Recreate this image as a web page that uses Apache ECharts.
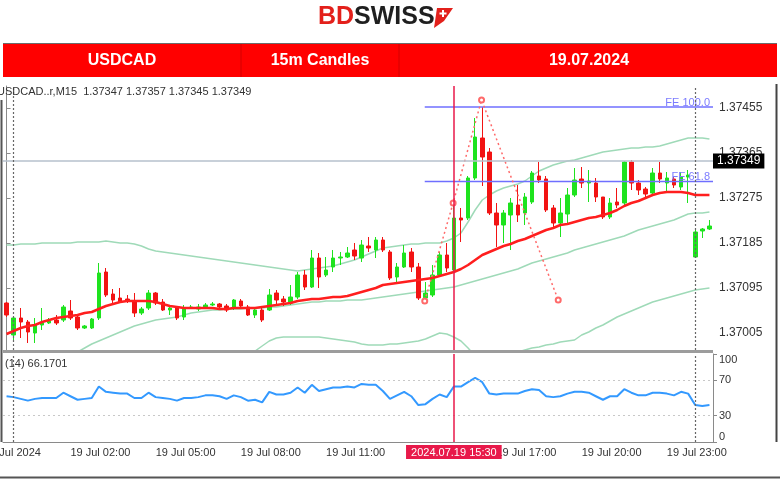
<!DOCTYPE html>
<html>
<head>
<meta charset="utf-8">
<title>USDCAD 15m Candles 19.07.2024</title>
<script src="https://cdn.jsdelivr.net/npm/echarts@6/dist/echarts.min.js"></script>
<style>
  html, body { margin: 0; padding: 0; background: #fff; }
  #chart { width: 780px; height: 482px; }
</style>
</head>
<body>
<div id="chart"></div>
<script>
// 15m bars: 18 Jul 23:45, the whole of 19 Jul, then Monday 22 Jul 00:00-00:30
const pad = (n) => String(n).padStart(2, '0');
const times = ['18 Jul 23:45'];
for (let h = 0; h < 24; h++) {
  for (let m = 0; m < 60; m += 15) times.push(`19 Jul ${pad(h)}:${pad(m)}`);
}
times.push('22 Jul 00:00', '22 Jul 00:15', '22 Jul 00:30');

const timeTickLabels = ['19 Jul 02:00', '19 Jul 05:00', '19 Jul 08:00', '19 Jul 11:00', '19 Jul 14:00', '19 Jul 17:00', '19 Jul 20:00', '19 Jul 23:00'];
const daySeparators = ['19 Jul 00:00', '22 Jul 00:00'];
const cursorTime = '19 Jul 15:30';
const priceTicks = [1.37005, 1.37095, 1.37185, 1.37275, 1.37365, 1.37455];
const rsiTicks = [0, 30, 70, 100];
const lastPrice = 1.37349;

const opens = [
  1.37065, 1.37001, 1.37035, 1.37027, 1.37005, 1.37021, 1.37025, 1.37031, 1.37031, 1.37049,
  1.37037, 1.37015, 1.37015, 1.37035, 1.37127, 1.37083, 1.37075, 1.37073, 1.37067, 1.37045,
  1.37055, 1.37085, 1.37067, 1.37051, 1.37055, 1.37037, 1.37055, 1.37053, 1.37057, 1.37061,
  1.37063, 1.37059, 1.37055, 1.37069, 1.37057, 1.37041, 1.37051, 1.37051, 1.37085, 1.37073,
  1.37065, 1.37077, 1.37121, 1.37097, 1.37155, 1.37121, 1.37137, 1.37155, 1.37157, 1.37171,
  1.37155, 1.37179, 1.37171, 1.37191, 1.37167, 1.37117, 1.37137, 1.37167, 1.37137, 1.37075,
  1.37081, 1.37121, 1.37161, 1.37131, 1.37235, 1.37235, 1.37315, 1.37395, 1.37367, 1.37245,
  1.37221, 1.37241, 1.37261, 1.37245, 1.37267, 1.37319, 1.37313, 1.37255, 1.37225, 1.37243,
  1.37281, 1.37313, 1.37305, 1.37305, 1.37277, 1.37237, 1.37267, 1.37265, 1.37347, 1.37305,
  1.37293, 1.37285, 1.37325, 1.37305, 1.37313, 1.37297, 1.37317, 1.37157, 1.37209, 1.37213
];
const closes = [
  1.37041, 1.37035, 1.37027, 1.37007, 1.37021, 1.37025, 1.37029, 1.37025, 1.37057, 1.37035,
  1.37015, 1.37019, 1.37033, 1.37125, 1.37081, 1.37071, 1.37067, 1.37069, 1.37045, 1.37053,
  1.37085, 1.37065, 1.37051, 1.37055, 1.37035, 1.37055, 1.37057, 1.37057, 1.37061, 1.37063,
  1.37057, 1.37051, 1.37071, 1.37059, 1.37041, 1.37051, 1.37031, 1.37081, 1.37071, 1.37067,
  1.37077, 1.37121, 1.37097, 1.37155, 1.37117, 1.37131, 1.37155, 1.37157, 1.37165, 1.37159,
  1.37181, 1.37175, 1.37191, 1.37171, 1.37115, 1.37137, 1.37165, 1.37137, 1.37075, 1.37085,
  1.37121, 1.37161, 1.37135, 1.37235, 1.37231, 1.37315, 1.37397, 1.37357, 1.37245, 1.37221,
  1.37245, 1.37265, 1.37241, 1.37277, 1.37325, 1.37311, 1.37251, 1.37225, 1.37245, 1.37281,
  1.37311, 1.37305, 1.37309, 1.37277, 1.37237, 1.37265, 1.37261, 1.37347, 1.37305, 1.37291,
  1.37283, 1.37325, 1.37313, 1.37315, 1.37301, 1.37317, 1.37321, 1.37207, 1.37213, 1.37219
];
const lows = [
  1.37037, 1.36991, 1.36995, 1.36985, 1.36985, 1.37011, 1.37023, 1.37021, 1.37027, 1.37031,
  1.37011, 1.37013, 1.37013, 1.37031, 1.37077, 1.37065, 1.37065, 1.37065, 1.37037, 1.37041,
  1.37051, 1.37061, 1.37049, 1.37041, 1.37031, 1.37031, 1.37053, 1.37049, 1.37055, 1.37059,
  1.37053, 1.37047, 1.37051, 1.37055, 1.37039, 1.37035, 1.37027, 1.37049, 1.37061, 1.37059,
  1.37061, 1.37073, 1.37091, 1.37095, 1.37095, 1.37117, 1.37127, 1.37141, 1.37155, 1.37151,
  1.37147, 1.37167, 1.37155, 1.37167, 1.37111, 1.37107, 1.37135, 1.37127, 1.37071, 1.37067,
  1.37077, 1.37117, 1.37127, 1.37127, 1.37187, 1.37231, 1.37311, 1.37299, 1.37241, 1.37177,
  1.37185, 1.37171, 1.37227, 1.37221, 1.37263, 1.37305, 1.37247, 1.37215, 1.37197, 1.37221,
  1.37277, 1.37295, 1.37267, 1.37267, 1.37233, 1.37233, 1.37255, 1.37261, 1.37291, 1.37281,
  1.37275, 1.37281, 1.37305, 1.37285, 1.37295, 1.37291, 1.37265, 1.37155, 1.37195, 1.37211
];
const highs = [
  1.37067, 1.37037, 1.37055, 1.37031, 1.37035, 1.37055, 1.37035, 1.37041, 1.37061, 1.37071,
  1.37041, 1.37021, 1.37035, 1.37145, 1.37135, 1.37093, 1.37095, 1.37081, 1.37085, 1.37057,
  1.37091, 1.37087, 1.37073, 1.37061, 1.37057, 1.37061, 1.37061, 1.37063, 1.37065, 1.37067,
  1.37065, 1.37063, 1.37073, 1.37073, 1.37061, 1.37055, 1.37055, 1.37093, 1.37091, 1.37079,
  1.37101, 1.37127, 1.37131, 1.37171, 1.37165, 1.37157, 1.37171, 1.37167, 1.37177, 1.37185,
  1.37191, 1.37197, 1.37197, 1.37197, 1.37171, 1.37145, 1.37181, 1.37175, 1.37145, 1.37107,
  1.37141, 1.37167, 1.37185, 1.37261, 1.37255, 1.37319, 1.37435, 1.37457, 1.37375, 1.37265,
  1.37251, 1.37275, 1.37301, 1.37285, 1.37329, 1.37347, 1.37319, 1.37261, 1.37275, 1.37295,
  1.37335, 1.37337, 1.37331, 1.37315, 1.37277, 1.37275, 1.37295, 1.37349, 1.37351, 1.37311,
  1.37297, 1.37335, 1.37347, 1.37327, 1.37317, 1.37327, 1.37331, 1.37211, 1.37215, 1.37231
];
// red moving average
const maLine = [
  1.37003, 1.37009, 1.37015, 1.37019, 1.37021, 1.37027, 1.37031, 1.37035, 1.37037, 1.37039,
  1.37041, 1.37045, 1.37047, 1.37053, 1.37059, 1.37063, 1.37067, 1.37069, 1.37069, 1.37069,
  1.37069, 1.37067, 1.37063, 1.37059, 1.37057, 1.37055, 1.37055, 1.37055, 1.37055, 1.37055,
  1.37053, 1.37053, 1.37055, 1.37055, 1.37055, 1.37055, 1.37057, 1.37059, 1.37061, 1.37063,
  1.37065, 1.37069, 1.37071, 1.37073, 1.37073, 1.37075, 1.37077, 1.37077, 1.37079, 1.37083,
  1.37087, 1.37091, 1.37095, 1.37101, 1.37103, 1.37105, 1.37107, 1.37109, 1.37111, 1.37113,
  1.37115, 1.37119, 1.37123, 1.37127, 1.37133, 1.37141, 1.37151, 1.37161, 1.37167, 1.37173,
  1.37179, 1.37183, 1.37189, 1.37193, 1.37199, 1.37205, 1.37211, 1.37215, 1.37221, 1.37223,
  1.37227, 1.37231, 1.37235, 1.37237, 1.37241, 1.37245, 1.37251, 1.37259, 1.37265, 1.37269,
  1.37275, 1.37281, 1.37285, 1.37287, 1.37287, 1.37287, 1.37285, 1.37281, 1.37281, 1.37281
];
// bollinger bands
const bbUpper = [
  1.37181, 1.37181, 1.37183, 1.37183, 1.37183, 1.37185, 1.37185, 1.37185, 1.37185, 1.37185,
  1.37187, 1.37187, 1.37187, 1.37187, 1.37189, 1.37187, 1.37185, 1.37185, 1.37183, 1.37179,
  1.37173, 1.37169, 1.37167, 1.37165, 1.37163, 1.37161, 1.37159, 1.37157, 1.37155, 1.37153,
  1.37151, 1.37149, 1.37147, 1.37145, 1.37143, 1.37141, 1.37139, 1.37137, 1.37135, 1.37133,
  1.37131, 1.37129, 1.37131, 1.37133, 1.37135, 1.37137, 1.37139, 1.37143, 1.37147, 1.37151,
  1.37157, 1.37163, 1.37169, 1.37175, 1.37177, 1.37179, 1.37181, 1.37183, 1.37183, 1.37185,
  1.37185, 1.37185, 1.37189, 1.37195, 1.37205, 1.37227, 1.37251, 1.37271, 1.37281, 1.37289,
  1.37295, 1.37299, 1.37303, 1.37309, 1.37319, 1.37329, 1.37335, 1.37341, 1.37345, 1.37349,
  1.37351, 1.37355, 1.37359, 1.37363, 1.37367, 1.37369, 1.37371, 1.37373, 1.37375, 1.37375,
  1.37377, 1.37377, 1.37379, 1.37383, 1.37387, 1.37391, 1.37395, 1.37395, 1.37395, 1.37393
];
const bbMiddle = [
  1.36905, 1.36911, 1.36917, 1.36923, 1.36929, 1.36935, 1.36941, 1.36947, 1.36953, 1.36959,
  1.36967, 1.36975, 1.36983, 1.36989, 1.36995, 1.37001, 1.37007, 1.37013, 1.37019, 1.37023,
  1.37027, 1.37031, 1.37033, 1.37035, 1.37037, 1.37041, 1.37045, 1.37047, 1.37049, 1.37051,
  1.37051, 1.37053, 1.37053, 1.37053, 1.37055, 1.37055, 1.37055, 1.37057, 1.37057, 1.37059,
  1.37061, 1.37063, 1.37065, 1.37067, 1.37067, 1.37069, 1.37069, 1.37069, 1.37071, 1.37071,
  1.37071, 1.37073, 1.37075, 1.37077, 1.37079, 1.37081, 1.37083, 1.37085, 1.37087, 1.37089,
  1.37091, 1.37093, 1.37095, 1.37097, 1.37101, 1.37105, 1.37109, 1.37113, 1.37117, 1.37121,
  1.37125, 1.37129, 1.37133, 1.37139, 1.37145, 1.37149, 1.37153, 1.37157, 1.37161, 1.37165,
  1.37171, 1.37175, 1.37179, 1.37183, 1.37187, 1.37191, 1.37195, 1.37199, 1.37205, 1.37211,
  1.37215, 1.37219, 1.37223, 1.37227, 1.37231, 1.37237, 1.37243, 1.37245, 1.37245, 1.37247
];
const bbLower = [
  1.36731, 1.36741, 1.36751, 1.36761, 1.36771, 1.36781, 1.36791, 1.36801, 1.36811, 1.36821,
  1.36831, 1.36841, 1.36851, 1.36861, 1.36871, 1.36879, 1.36887, 1.36893, 1.36899, 1.36905,
  1.36911, 1.36917, 1.36923, 1.36927, 1.36931, 1.36935, 1.36939, 1.36941, 1.36945, 1.36947,
  1.36949, 1.36951, 1.36955, 1.36959, 1.36963, 1.36969, 1.36979, 1.36989, 1.36995, 1.36997,
  1.36997, 1.36997, 1.36997, 1.36997, 1.36997, 1.36995, 1.36993, 1.36991, 1.36989, 1.36987,
  1.36983, 1.36981, 1.36981, 1.36981, 1.36983, 1.36983, 1.36985, 1.36987, 1.36989, 1.36993,
  1.36999, 1.37005, 1.37003, 1.36997, 1.36989, 1.36975, 1.36959, 1.36947, 1.36943, 1.36947,
  1.36955, 1.36963, 1.36967, 1.36971, 1.36975, 1.36977, 1.36981, 1.36983, 1.36987, 1.36989,
  1.36991, 1.37001, 1.37007, 1.37015, 1.37021, 1.37029, 1.37037, 1.37043, 1.37049, 1.37055,
  1.37061, 1.37067, 1.37071, 1.37075, 1.37079, 1.37083, 1.37087, 1.37091, 1.37093, 1.37095
];
// RSI(14)
const rsi = [
  52, 51, 49, 47, 49, 50, 50, 50, 56, 52,
  48, 49, 50, 63, 57, 56, 55, 55, 50, 50,
  56, 51, 50, 49, 47, 50, 50, 51, 53, 53,
  52, 49, 53, 51, 47, 48, 45, 57, 54, 54,
  56, 62, 56, 65, 58, 60, 62, 62, 63, 62,
  66, 65, 65, 58, 49, 53, 57, 52, 42, 43,
  49, 54, 51, 63, 63, 68, 73, 68, 55, 54,
  55, 55, 55, 58, 60, 59, 52, 51, 52, 55,
  57, 57, 56, 52, 48, 52, 52, 60, 56, 53,
  53, 56, 56, 55, 53, 57, 55, 42, 41, 42
];
// fibo expansion: anchor points (bar position, price) and levels
const fiboBars = [58.9, 62.9, 66.9, 77.7];
const fiboPrices = [1.37069, 1.37265, 1.37471, 1.37071];
const feNames = ['FE 100.0', 'FE 61.8'];
const feLevels = [1.37457, 1.37308];
const feStart = 58.9;
const feEnd = 99.5;

const FONT = 'Liberation Sans, Arial, sans-serif';
const chart = echarts.init(document.getElementById('chart'));

const candleData = opens.map((o, i) => [o, closes[i], lows[i], highs[i]]);
const isTimeTick = (idx, value) => timeTickLabels.indexOf(value) >= 0;

const dotted = { color: '#666', width: 1.2, type: [2, 2] };
const cursorLine = { color: '#e8194a', width: 1.5, type: 'solid' };

// vertical lines common to both panels
const vLines = (withLabel) => [
  ...daySeparators.map((t) => ({ xAxis: t, lineStyle: dotted })),
  {
    xAxis: cursorTime,
    lineStyle: cursorLine,
    label: withLabel
      ? {
          show: true, position: 'start', formatter: '2024.07.19 15:30', distance: 3,
          backgroundColor: '#e8194a', color: '#fff', padding: [2, 5, 1, 5],
          fontFamily: FONT, fontSize: 11,
        }
      : { show: false },
  },
];

const bbSeries = [bbUpper, bbMiddle, bbLower].map((d) => ({
  type: 'line', xAxisIndex: 0, yAxisIndex: 0, data: d,
  symbol: 'none', silent: true, z: 1,
  lineStyle: { color: '#9fdab8', width: 1.5 },
}));

const feSeries = feLevels.map((lv, k) => ({
  type: 'line', xAxisIndex: 2, yAxisIndex: 0,
  data: [[feStart, lv], [feEnd, lv]],
  symbol: 'none', silent: true, z: 4,
  lineStyle: { color: '#6f6fff', width: 1.5 },
  endLabel: {
    show: true, formatter: feNames[k], align: 'right', verticalAlign: 'bottom',
    distance: 0, offset: [-3, 1], color: '#7b7bff', fontFamily: FONT, fontSize: 11,
  },
}));

const option = {
  animation: false,
  backgroundColor: '#fff',
  grid: [
    { left: 3, top: 86, width: 710, height: 264 },
    { left: 3, top: 354, width: 710, height: 88 },
  ],
  xAxis: [
    {
      type: 'category', gridIndex: 0, data: times,
      axisLine: { show: false }, axisTick: { show: false }, axisLabel: { show: false }, splitLine: { show: false },
    },
    {
      type: 'category', gridIndex: 1, data: times,
      axisLine: { lineStyle: { color: '#8a8a8a', width: 1 } },
      axisTick: { interval: isTimeTick, alignWithLabel: true, length: 4, lineStyle: { color: '#8a8a8a' } },
      axisLabel: { interval: isTimeTick, align: 'left', margin: 5, color: '#333', fontFamily: FONT, fontSize: 11 },
      splitLine: { show: false },
    },
    { type: 'value', gridIndex: 0, min: -0.5, max: 99.5, show: false },
  ],
  yAxis: [
    {
      type: 'value', gridIndex: 0, position: 'right', min: 1.36971, max: 1.37499,
      axisLine: { show: true, lineStyle: { color: '#8a8a8a' } },
      axisTick: { show: true, length: 4, customValues: priceTicks, lineStyle: { color: '#8a8a8a' } },
      axisLabel: {
        customValues: priceTicks, formatter: (v) => v.toFixed(5), margin: 6,
        color: '#333', fontFamily: FONT, fontSize: 12,
      },
      splitLine: { show: false },
    },
    {
      type: 'value', gridIndex: 1, position: 'right', min: 0, max: 100,
      axisLine: { show: true, lineStyle: { color: '#8a8a8a' } },
      axisTick: { show: true, length: 4, customValues: rsiTicks, lineStyle: { color: '#8a8a8a' } },
      axisLabel: {
        customValues: rsiTicks, margin: 6, color: '#333', fontFamily: FONT, fontSize: 11,
        verticalAlignMinLabel: 'bottom', verticalAlignMaxLabel: 'top',
      },
      splitLine: { show: false },
    },
  ],
  series: [
    ...bbSeries,
    {
      type: 'line', xAxisIndex: 0, yAxisIndex: 0, data: maLine,
      symbol: 'none', silent: true, z: 3,
      lineStyle: { color: '#ff1e1e', width: 2.5 },
      // bid line with its price tag on the axis (precision so it is not rounded to 1.37)
      markLine: {
        symbol: 'none', silent: true, animation: false, precision: 5,
        data: [
          {
            yAxis: lastPrice,
            lineStyle: { color: '#b6c1cc', width: 1.5, type: 'solid' },
            label: {
              show: true, position: 'end', distance: 0, formatter: lastPrice.toFixed(5),
              backgroundColor: '#000', color: '#fff', padding: [2, 4, 1, 4],
              fontFamily: FONT, fontSize: 12,
            },
          },
        ],
      },
    },
    {
      type: 'candlestick', xAxisIndex: 0, yAxisIndex: 0, data: candleData,
      barWidth: 4, z: 2,
      itemStyle: {
        color: '#1ee31e', color0: '#f21313',
        borderColor: '#1ee31e', borderColor0: '#f21313', borderWidth: 1,
      },
      markLine: {
        symbol: 'none', silent: true, animation: false,
        label: { show: false },
        data: vLines(false),
      },
    },
    ...feSeries,
    {
      type: 'line', xAxisIndex: 2, yAxisIndex: 0,
      data: fiboBars.map((b, i) => [b, fiboPrices[i]]),
      symbol: 'emptyCircle', symbolSize: 5, showSymbol: true, silent: true, z: 4,
      itemStyle: { color: '#ff6a6a', borderWidth: 1 },
      lineStyle: { color: '#ff6a6a', width: 1.5, type: [2, 3] },
    },
    {
      type: 'line', xAxisIndex: 1, yAxisIndex: 1, data: rsi,
      symbol: 'none', silent: true, z: 3,
      lineStyle: { color: '#3399ff', width: 2 },
      markLine: {
        symbol: 'none', silent: true, animation: false,
        label: { show: false },
        data: [
          { yAxis: 70, lineStyle: { color: '#c8c8c8', width: 1, type: [2, 3] } },
          { yAxis: 30, lineStyle: { color: '#c8c8c8', width: 1, type: [2, 3] } },
          ...vLines(true),
        ],
      },
    },
  ],
  graphic: [
    // logo
    { type: 'text', x: 318, y: 17, style: { text: 'BD', fill: '#e3201b', font: `bold 25px ${FONT}`, verticalAlign: 'middle' } },
    { type: 'text', x: 354, y: 17, style: { text: 'SWISS', fill: '#1f1f1f', font: `bold 25px ${FONT}`, verticalAlign: 'middle' } },
    { type: 'polygon', shape: { points: [[437, 8], [453, 8], [444, 21], [434, 28]] }, style: { fill: '#e3201b' } },
    { type: 'rect', shape: { x: 442, y: 10, width: 2, height: 7 }, style: { fill: '#fff' } },
    { type: 'rect', shape: { x: 439.5, y: 12.5, width: 7, height: 2 }, style: { fill: '#fff' } },
    // header bar
    { type: 'rect', shape: { x: 3, y: 44, width: 774, height: 33 }, style: { fill: '#ff0000' } },
    { type: 'line', shape: { x1: 3, y1: 43.5, x2: 777, y2: 43.5 }, style: { stroke: '#6b6b6b', lineWidth: 1 } },
    { type: 'line', shape: { x1: 241, y1: 44, x2: 241, y2: 77 }, style: { stroke: '#d40000', lineWidth: 1 } },
    { type: 'line', shape: { x1: 399, y1: 44, x2: 399, y2: 77 }, style: { stroke: '#d40000', lineWidth: 1 } },
    { type: 'text', x: 122, y: 61, style: { text: 'USDCAD', fill: '#fff', font: `bold 16px ${FONT}`, align: 'center', verticalAlign: 'middle' } },
    { type: 'text', x: 320, y: 61, style: { text: '15m Candles', fill: '#fff', font: `bold 16px ${FONT}`, align: 'center', verticalAlign: 'middle' } },
    { type: 'text', x: 589, y: 61, style: { text: '19.07.2024', fill: '#fff', font: `bold 16px ${FONT}`, align: 'center', verticalAlign: 'middle' } },
    // chart captions
    { type: 'text', x: -3, y: 92, z: 20, style: { text: 'USDCAD..r,M15  1.37347 1.37357 1.37345 1.37349', fill: '#333', font: `11px ${FONT}`, verticalAlign: 'middle' } },
    { type: 'text', x: 5, y: 364, z: 20, style: { text: '(14) 66.1701', fill: '#333', font: `11px ${FONT}`, verticalAlign: 'middle' } },
    { type: 'text', x: -16, y: 453, z: 20, style: { text: '19 Jul 2024', fill: '#333', font: `11px ${FONT}`, verticalAlign: 'middle' } },
    // panel separator and frame
    { type: 'rect', z: 20, shape: { x: 3, y: 350, width: 710, height: 3 }, style: { fill: '#9c9c9c' } },
    { type: 'line', z: 20, shape: { x1: 1.5, y1: 100, x2: 1.5, y2: 442 }, style: { stroke: '#555', lineWidth: 2 } },
    { type: 'line', z: 20, shape: { x1: 776.5, y1: 84, x2: 776.5, y2: 442 }, style: { stroke: '#444', lineWidth: 2 } },
    { type: 'line', z: 20, shape: { x1: 0, y1: 477.5, x2: 780, y2: 477.5 }, style: { stroke: '#555', lineWidth: 2 } },
  ],
};

chart.setOption(option);
</script>
</body>
</html>
